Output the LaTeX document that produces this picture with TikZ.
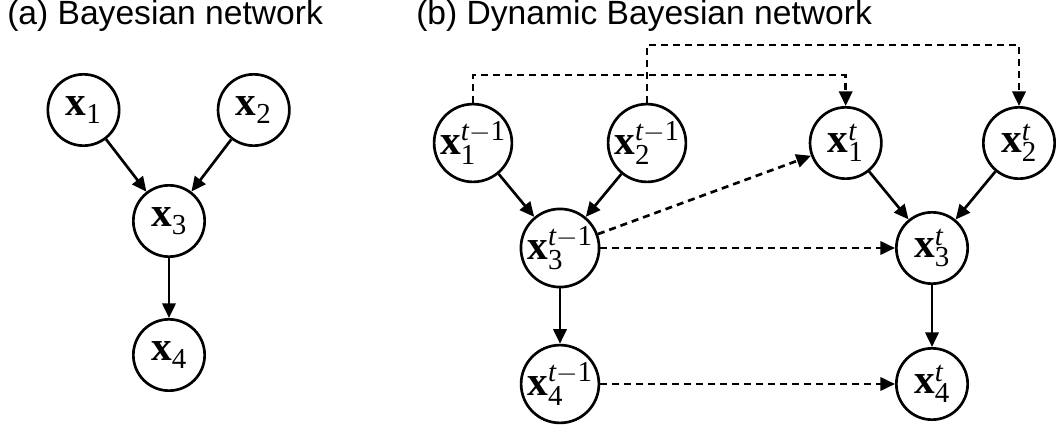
\documentclass[tikz,border=0pt]{standalone}
\usepackage{fontspec}
\setmainfont{Liberation Serif}
\setmathrm{Liberation Serif}
\setboldmathrm{Liberation Serif}[BoldFont={* Bold}]
\newfontfamily\titlefont{Liberation Sans}
\usetikzlibrary{arrows.meta}
\newcommand{\xv}[1]{$\mathbf{x}_{\mathrm{#1}}$}
\newcommand{\xp}[1]{$\mathbf{x}_{\mathrm{#1}}^{\mathit{t}-\mathrm{1}}$}
\newcommand{\xt}[1]{$\mathbf{x}_{\mathrm{#1}}^{\mathit{t}}$}
\begin{document}
\begin{tikzpicture}[x=0.75pt,y=-0.75pt,
  var/.style={circle,draw,line width=2pt,minimum size=53.5pt,inner sep=0pt,
    font=\fontsize{31}{34}\selectfont},
  edge/.style={line width=2pt,-{Triangle[length=11pt,width=10pt]}},
  temporal/.style={edge,dash pattern=on 5.25pt off 3.75pt},
  caption/.style={anchor=base west,inner sep=0pt,
    font=\titlefont\fontsize{25.2}{30}\selectfont}]
\useasboundingbox (0,0) rectangle (1056,427);

% captions
\node[caption] (capa) at (7,25) {(a) Bayesian network};
\node[caption] (capb) at (416,25) {(b) Dynamic Bayesian network};

% (a) static network
\node[var] (a1) at (83.5,110) {\xv{1}};
\node[var] (a2) at (253.7,110) {\xv{2}};
\node[var] (a3) at (169,221) {\xv{3}};
\node[var] (a4) at (169,355) {\xv{4}};
\draw[edge] (a1) -- (a3);
\draw[edge] (a2) -- (a3);
\draw[edge] (a3) -- (a4);

% (b) slice t-1
\node[var] (p1) at (473,143) {\xp{1}};
\node[var] (p2) at (647,143) {\xp{2}};
\node[var] (p3) at (560,248) {\xp{3}};
\node[var] (p4) at (560,384) {\xp{4}};
% (b) slice t
\node[var] (t1) at (845.7,143) {\xt{1}};
\node[var] (t2) at (1019,143) {\xt{2}};
\node[var] (t3) at (932,248) {\xt{3}};
\node[var] (t4) at (932,384) {\xt{4}};

\foreach \s in {p,t}{
  \draw[edge] (\s1) -- (\s3);
  \draw[edge] (\s2) -- (\s3);
  \draw[edge] (\s3) -- (\s4);
}

% inter-slice links
\coordinate (lowrail) at (0,75);
\coordinate (highrail) at (0,45);
\draw[temporal] (p1.north) -- (p1.north |- lowrail) -| (t1.north);
\draw[temporal] (p2.north) -- (p2.north |- highrail) -| (t2.north);
\draw[temporal] (p3) -- (t1);
\draw[temporal] (p3) -- (t3);
\draw[temporal] (p4) -- (t4);
\end{tikzpicture}
\end{document}
